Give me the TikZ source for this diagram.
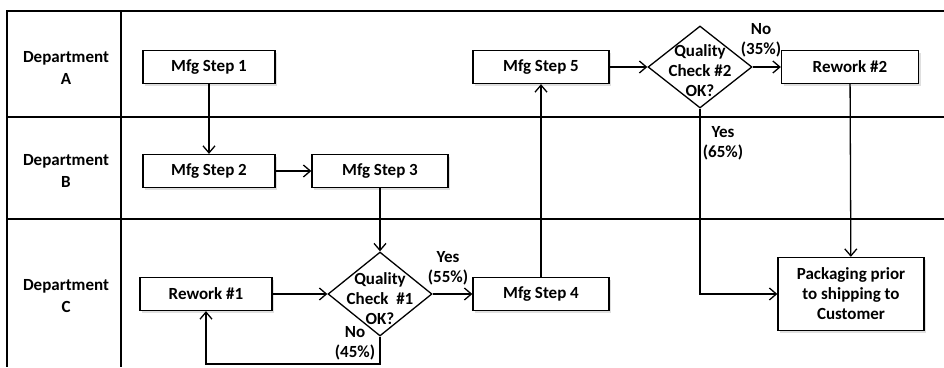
\documentclass[tikz,border=0pt]{standalone}
\usepackage{fontspec}
\setmainfont{Carlito}
\usetikzlibrary{shapes.geometric,arrows.meta,shadows}
\begin{document}
\begin{tikzpicture}[x=1pt,y=-1pt,font=\fontsize{17}{20}\selectfont\bfseries,
  lane/.style={line width=1.3pt},
  stepbox/.style={draw,line width=1.3pt,fill=white,minimum width=132pt,minimum height=33pt,inner sep=0pt,
    drop shadow={shadow xshift=2pt,shadow yshift=-2pt,opacity=0.25}},
  decision/.style={draw,diamond,line width=1.3pt,fill=white,minimum width=104pt,minimum height=84pt,inner sep=0pt},
  flow/.style={line width=1.3pt,-{Straight Barb[length=7pt,width=12pt,line width=1.3pt]}},
  tag/.style={align=center}]
  \useasboundingbox (0,0) rectangle (944,367);
  \draw[lane] (944,11) -- (7,11) -- (7,367);
  \draw[lane] (121,11) -- (121,367);
  \draw[lane] (7,117) -- (944,117);
  \draw[lane] (7,219) -- (944,219);
  \node[tag,font=\fontsize{17}{22}\selectfont\bfseries] (deptA) at (66,68) {Department\\A};
  \node[tag,font=\fontsize{17}{22}\selectfont\bfseries] (deptB) at (66,171) {Department\\B};
  \node[tag,font=\fontsize{17}{22}\selectfont\bfseries] (deptC) at (66,296) {Department\\C};
  \node[stepbox] (step1) at (209,67) {Mfg Step 1};
  \node[stepbox] (step2) at (209,171) {Mfg Step 2};
  \node[stepbox,minimum width=136pt] (step3) at (380,171) {Mfg Step 3};
  \node[stepbox] (rework1) at (206,294) {Rework \#1};
  \node[decision] (qc1) at (380,294) {};
  \node[tag] (qc1txt) at (380,299) {Quality\\Check\ \ \#1\\OK?};
  \node[stepbox,minimum width=136pt] (step4) at (541,294) {Mfg Step 4};
  \node[stepbox,minimum width=136pt] (step5) at (541,67) {Mfg Step 5};
  \node[decision,minimum height=82pt] (qc2) at (700,67) {};
  \node[tag] (qc2txt) at (700,71) {Quality\\Check \#2\\OK?};
  \node[stepbox,minimum width=137pt] (rework2) at (850,67) {Rework \#2};
  \node[stepbox,minimum width=146pt,minimum height=73pt,align=center] (pack) at (851,294) {Packaging prior\\to shipping to\\Customer};
  \coordinate (loopR) at (380,364);
  \coordinate (loopL) at (206,364);
  \draw[flow] (step1) -- (step2);
  \draw[flow] (step2) -- (step3);
  \draw[flow] (step3) -- (qc1.north);
  \draw[flow] (rework1) -- (qc1.west);
  \draw[flow] (qc1.east) -- (step4);
  \draw[flow] (qc1.south) -- (loopR) -- (loopL) -- (rework1);
  \draw[flow] (step4) -- (step5);
  \draw[flow] (step5) -- (qc2.west);
  \draw[flow] (qc2.east) -- (rework2);
  \draw[flow] (qc2.south) |- (pack);
  \draw[flow] (rework2) -- (pack);
  \node[tag] (yes1) at (448,268) {Yes\\(55\%)};
  \node[tag] (no1) at (355,343) {No\\(45\%)};
  \node[tag] (no2) at (761,40) {No\\(35\%)};
  \node[tag] (yes2) at (723,143) {Yes\\(65\%)};
\end{tikzpicture}
\end{document}
